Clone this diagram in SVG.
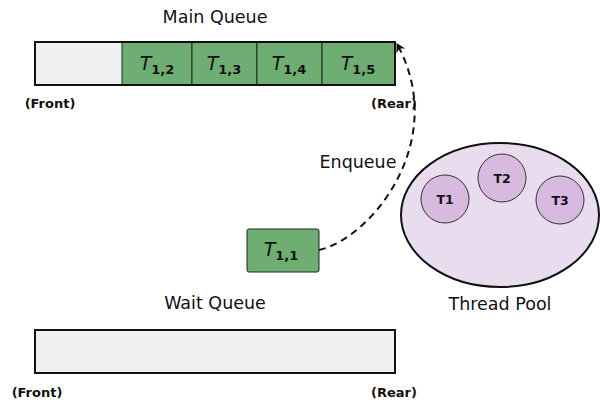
<svg xmlns="http://www.w3.org/2000/svg" width="600" height="402" viewBox="0 0 600 402">
<style>
text{font-family:"DejaVu Sans","Open Sans",sans-serif;fill:#111}
.lbl{font-size:17.5px;text-anchor:middle}
.sm{font-size:13px;font-weight:bold;text-anchor:middle}
.cell{fill:#6fae72;stroke:#222;stroke-width:1}
.box{fill:#f0f0f0;stroke:#111;stroke-width:2}
.task{font-size:19px;text-anchor:middle}
.it{font-style:italic}
.sub{font-size:13px;font-weight:bold}
.thr{fill:#d8b9e0;stroke:#333;stroke-width:1}
.tt{font-size:12.5px;font-weight:bold;text-anchor:middle}
</style>
<defs>
<marker id="ah" markerWidth="12" markerHeight="12" refX="9" refY="6" orient="auto" markerUnits="userSpaceOnUse">
<path d="M1,1 L10,6 L1,11 L4,6 Z" fill="#111"/>
</marker>
</defs>
<g id="main-queue">
<text class="lbl" x="215" y="23">Main Queue</text>
<rect class="box" x="35" y="42" width="360" height="43"/>
<rect class="cell" x="122" y="42" width="70" height="43"/>
<rect class="cell" x="192" y="42" width="65" height="43"/>
<rect class="cell" x="257" y="42" width="65" height="43"/>
<rect class="cell" x="322" y="42" width="73" height="43"/>
<rect x="35" y="42" width="360" height="43" fill="none" stroke="#111" stroke-width="2"/>
<text class="task" x="157" y="70"><tspan class="it">T</tspan><tspan class="sub" dy="4">1,2</tspan></text>
<text class="task" x="224" y="70"><tspan class="it">T</tspan><tspan class="sub" dy="4">1,3</tspan></text>
<text class="task" x="289" y="70"><tspan class="it">T</tspan><tspan class="sub" dy="4">1,4</tspan></text>
<text class="task" x="358" y="70"><tspan class="it">T</tspan><tspan class="sub" dy="4">1,5</tspan></text>
<text class="sm" x="50" y="108">(Front)</text>
<text class="sm" x="394" y="108">(Rear)</text>
</g>
<g id="wait-queue">
<text class="lbl" x="215" y="309">Wait Queue</text>
<rect class="box" x="35" y="330" width="360" height="43"/>
<text class="sm" x="37" y="397">(Front)</text>
<text class="sm" x="394" y="397">(Rear)</text>
</g>
<g id="task-t11">
<rect class="cell" x="247" y="229" width="72" height="43" rx="2"/>
<text class="task" x="281" y="256"><tspan class="it">T</tspan><tspan class="sub" dy="4">1,1</tspan></text>
</g>
<g id="thread-pool">
<ellipse cx="500" cy="215" rx="99" ry="72" fill="#e9dcef" stroke="#111" stroke-width="2"/>
<circle class="thr" cx="445" cy="199" r="24"/>
<circle class="thr" cx="502" cy="178" r="24"/>
<circle class="thr" cx="560" cy="200" r="24"/>
<text class="tt" x="445" y="204">T1</text>
<text class="tt" x="502" y="183">T2</text>
<text class="tt" x="560" y="205">T3</text>
<text class="lbl" x="500" y="310">Thread Pool</text>
</g>
<g id="connectors">
<path d="M319,250 C372,238 450,140 397,44" fill="none" stroke="#111" stroke-width="2" stroke-dasharray="7,5" marker-end="url(#ah)"/>
<text class="lbl" x="358" y="168">Enqueue</text>
</g>
</svg>
